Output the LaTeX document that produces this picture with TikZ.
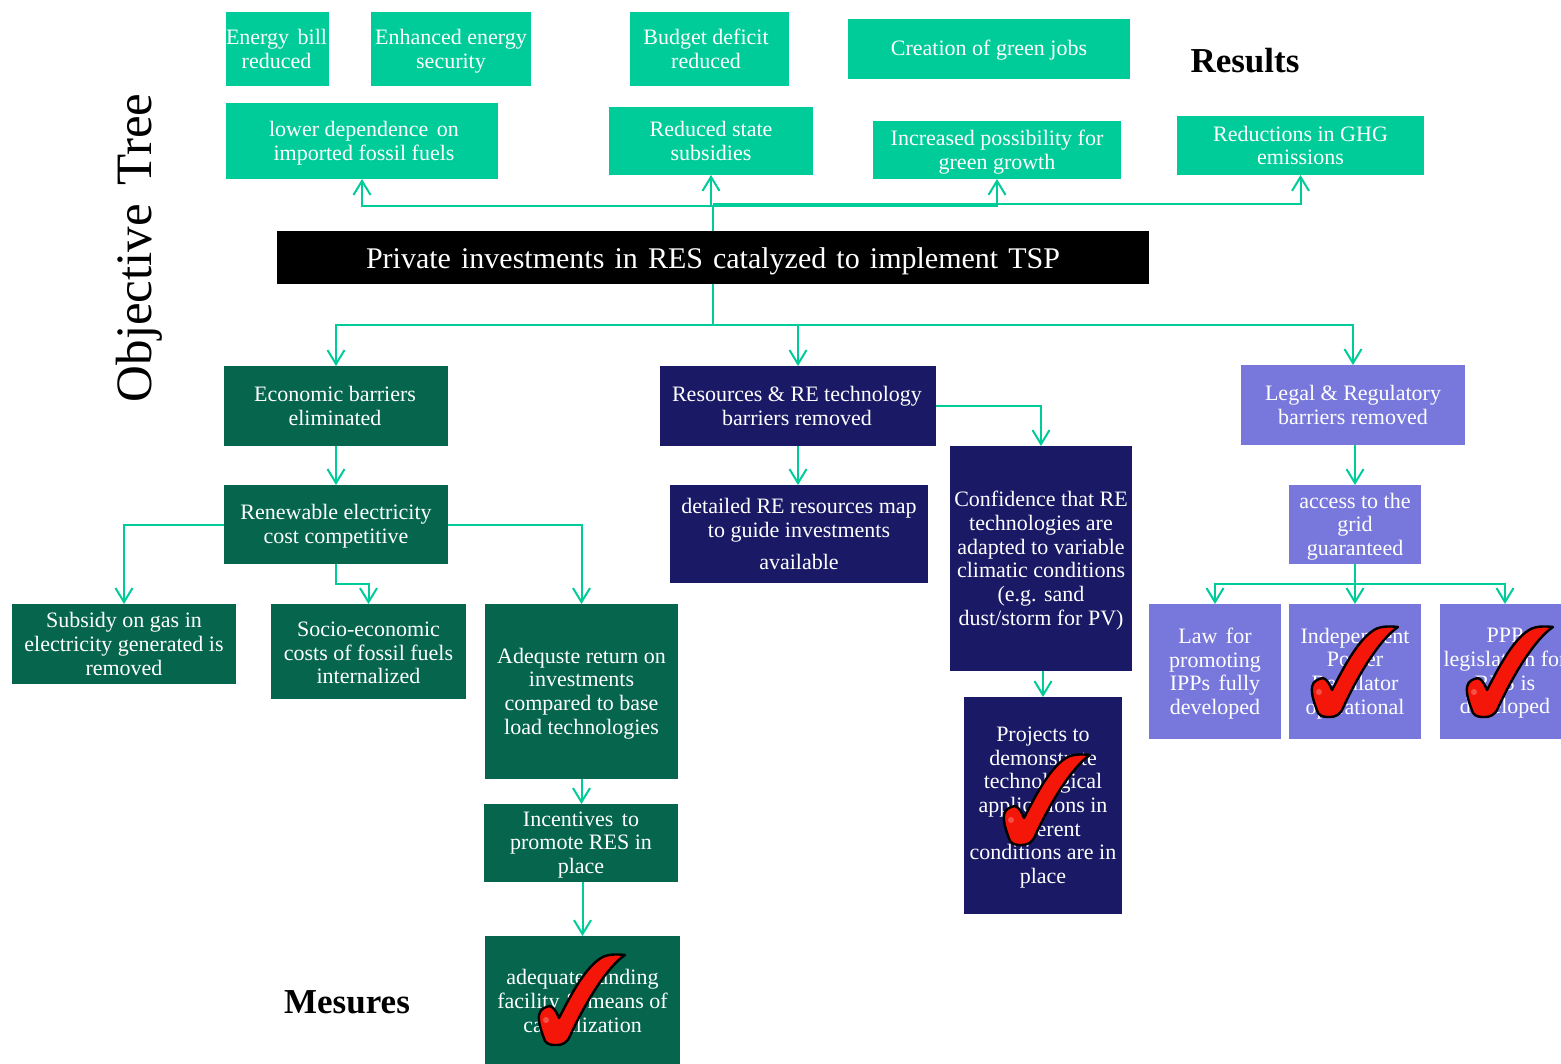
\documentclass[tikz,border=0pt]{standalone}
\usepackage{fontspec}
\setmainfont{Liberation Serif}
\usetikzlibrary{arrows.meta,calc}
\definecolor{topteal}{HTML}{00CC99}
\definecolor{dkgreen}{HTML}{05664D}
\definecolor{navyb}{HTML}{191966}
\definecolor{purpleb}{HTML}{7878DC}
\definecolor{tickred}{HTML}{F5160A}
% \bx[text options]{name}{x0}{y0}{x1}{y1}{box style}{text}
\newcommand{\bx}[8][]{%
  \node[box,#7,minimum width={(#5-#3)*1pt},minimum height={(#6-#4)*1pt}] (#2) at ({(#3+#5)/2},{(#4+#6)/2}) {};
  \node[boxtext,yshift=-2pt,#1] (#2-t) at (#2.center) {#8};}
\newcommand{\xs}{\hspace{3pt}}
\tikzset{
 box/.style={inner sep=0pt,outer sep=0pt},
 boxtext/.style={inner sep=0pt,outer sep=0pt,align=center,text=white,font=\fontsize{22}{23.7}\selectfont},
 topb/.style={fill=topteal},
 greenb/.style={fill=dkgreen},
 navb/.style={fill=navyb},
 purb/.style={fill=purpleb},
 blackb/.style={fill=black},
 maintext/.style={font=\fontsize{30}{34}\selectfont},
 conn/.style={draw=topteal,line width=2pt,line join=miter,-{Straight Barb[length=14pt,width=17pt,line width=2pt]}},
 plain/.style={draw=topteal,line width=2pt},
 heading/.style={inner sep=0pt,font=\fontsize{35}{40}\selectfont\bfseries},
 pics/tick/.style={code={
   \draw[fill=tickred,draw=black,line width=2.4pt,line join=round]
     (-18,-30) .. controls (-17,-36) and (-12,-38) .. (-7,-39)
     .. controls (-3,-38) and (0,-32) .. (2,-27)
     .. controls (10,-42) and (26,-76) .. (44,-87)
     .. controls (50,-91) and (60,-91) .. (68,-90)
     .. controls (50,-78) and (28,-42) .. (13,-9)
     .. controls (10,-2) and (5,0) .. (0,0)
     .. controls (-5,0) and (-9,0) .. (-12,-4)
     .. controls (-15,-12) and (-19,-22) .. (-18,-30) -- cycle;
   \fill[white,opacity=.25] (-11,-25) circle (3);
 }}
}
\begin{document}
\begin{tikzpicture}[x=1pt,y=-1pt]
\useasboundingbox (0,0) rectangle (1561,1064);
\clip (0,0) rectangle (1561,1064);
% top row
\bx[yshift=2pt,xshift=-1pt]{energy}{226}{12}{329}{86}{topb}{Energy\xs{} bill\\reduced}
\bx{security}{371}{12}{531}{86}{topb}{Enhanced energy\\security}
\bx[yshift=2pt,xshift=-3.5pt]{budget}{630}{12}{789}{86}{topb}{Budget deficit\\reduced}
\bx[yshift=1pt]{jobs}{848}{19}{1130}{79}{topb}{Creation of green jobs}
\bx[xshift=2pt]{lower}{226}{103}{498}{179}{topb}{lower dependence\xs{} on\\imported fossil fuels}
\bx[yshift=2pt]{subs}{609}{107}{813}{175}{topb}{Reduced state\\subsidies}
\bx{growth}{873}{121}{1121}{179}{topb}{Increased possibility for\\green growth}
\bx[yshift=2pt]{ghg}{1177}{116}{1424}{175}{topb}{Reductions in GHG\\emissions}
\bx[yshift=-2pt,maintext]{main}{277}{231}{1149}{284}{blackb}{\spaceskip=10.1pt Private investments in RES catalyzed to implement TSP}
% second level
\bx[yshift=2pt,xshift=-1pt]{econ}{224}{366}{448}{446}{greenb}{Economic barriers\\eliminated}
\bx[yshift=2pt,xshift=-1pt]{res}{660}{366}{936}{446}{navb}{Resources \& RE technology\\barriers removed}
\bx[yshift=2pt]{legal}{1241}{365}{1465}{445}{purb}{Legal \& Regulatory\\barriers removed}
% third level
\bx{renew}{224}{485}{448}{564}{greenb}{Renewable electricity\\cost competitive}
\bx[yshift=2pt]{map}{670}{485}{928}{583}{navb}{detailed RE resources map\\to guide investments\\[9pt]available}
\bx{conf}{950}{446}{1132}{671}{navb}{Confidence that RE\\technologies are\\adapted to variable\\climatic conditions\\(e.g. sand\\dust/storm for PV)}
\bx{access}{1289}{485}{1421}{564}{purb}{access to the\\grid\\guaranteed}
% fourth level
\bx[yshift=2pt]{subsidy}{12}{604}{236}{684}{greenb}{Subsidy on gas in\\electricity generated is\\removed}
\bx[yshift=.5pt]{socio}{271}{604}{466}{699}{greenb}{Socio-economic\\costs of fossil fuels\\internalized}
\bx{adeq}{485}{604}{678}{779}{greenb}{Adequste return on\\investments\\compared to base\\load technologies}
\bx{incent}{484}{804}{678}{882}{greenb}{Incentives\xs{} to\\promote RES in\\place}
\bx{fund}{485}{936}{680}{1066}{greenb}{adequate funding\\facility \& means of\\capitalization}
\bx{proj}{964}{697}{1122}{914}{navb}{Projects to\\demonstrate\\technological\\applications in\\different\\conditions are in\\place}
\bx{law}{1149}{604}{1281}{739}{purb}{Law\xs{} for\\promoting\\IPPs\xs{} fully\\developed}
\bx{ipr}{1289}{604}{1421}{739}{purb}{Independent\\Power\\Regulator\\operational}
\bx{ppp}{1440}{604}{1570}{739}{purb}{PPP\\legislation for\\RES is\\developed}
% headings
\node[heading] (results) at (1245,61) {Results};
\node[heading] (mesures) at (347,1002) {Mesures};
\node[inner sep=0pt,rotate=90,font=\fontsize{51}{56}\selectfont] (title) at (139,248) {Objective\hspace{6pt} Tree};
% connectors, upper tree
\coordinate (up) at (713,206);
\coordinate (up2) at (713,204);
\draw[plain] (main.north -| up) -- (up);
\draw[conn] (up) -| (lower.south);
\draw[conn] (up) -- (up -| subs.south) -- (subs.south);
\draw[conn] (up) -| (growth.south);
\draw[conn] (up2) -| (ghg.south);
% connectors, lower tree
\coordinate (trunk) at (713,325);
\draw[plain] (main.south -| trunk) -- (trunk);
\draw[conn] (trunk) -| (econ.north);
\draw[conn] (trunk) -| (res.north);
\draw[conn] (trunk) -| (legal.north);
\draw[conn] (econ.south) -- (renew.north);
\draw[conn] (renew.west) -| (subsidy.north);
\coordinate (soc) at (336,584);
\draw[conn] (renew.south) -- (soc) -| (socio.north);
\draw[conn] (renew.east) -| (adeq.north);
\draw[conn] (adeq.south) -- (incent.north -| adeq.south);
\draw[conn] (fund.north |- incent.south) -- (fund.north);
\draw[conn] (res.south) -- (map.north -| res.south);
\draw[conn] (res.east) -| (conf.north);
\draw[conn] (proj.north |- conf.south) -- (proj.north);
\draw[conn] (access.north |- legal.south) -- (access.north);
\coordinate (fork) at (1355,584);
\draw[plain] (access.south) -- (fork);
\draw[conn] (fork) -| (law.north);
\draw[conn] (fork) -- (ipr.north);
\draw[conn] (fork) -| (ppp.north);
% ticks
\path (1022,845) pic {tick};
\path (557,1045) pic {tick};
\path (1330,717) pic {tick};
\path (1485,717) pic {tick};
\end{tikzpicture}
\end{document}
